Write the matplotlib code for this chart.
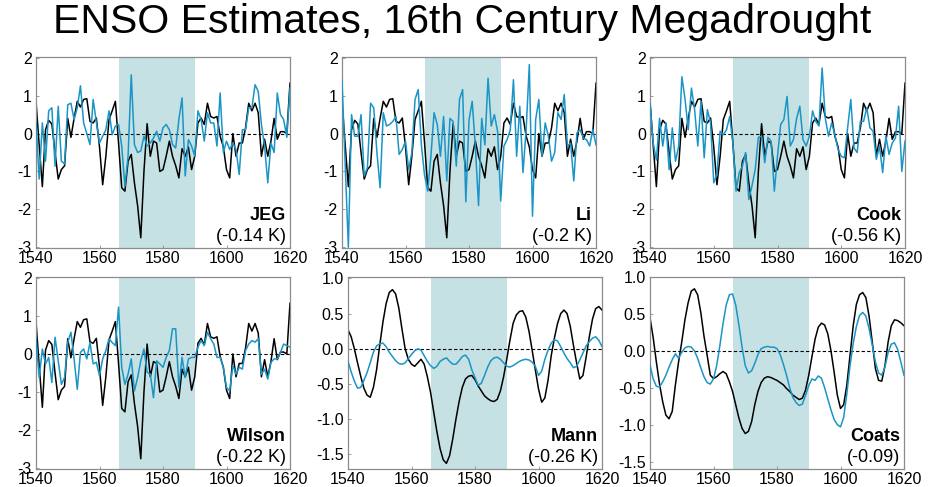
import matplotlib
matplotlib.use('Agg')
import matplotlib.pyplot as plt
from matplotlib import rcParams

rcParams['font.family'] = 'Liberation Sans'
rcParams['axes.unicode_minus'] = False

years = list(range(1540, 1621))

# reconstruction shared by the four annual panels (black)
black_annual = [0.85, -0.3, -1.4, 0.1, 0.35, 0.25, -0.5, -1.2, -0.95, -0.85,
                0.4, -0.1, 0.4, 0.85, 0.7, 0.9, 0.92, 0.32, 0.28, 0.41,
                -0.35, -1.35, -0.6, 0.37, 0.6, 0.85, -0.25, -1.43, -1.52, -0.73,
                -0.55, -1.3, -1.9, -2.75, -1.0, 0.26, -0.6, -0.2, -0.25, -1.0,
                -0.95, -0.6, -0.2, -0.6, -0.85, -1.17, -0.4, -0.6, -0.35, -0.95,
                -0.6, 0.28, 0.41, 0.24, 0.8, 0.45, 0.41, 0.45, -0.07, -0.35,
                -0.95, -1.17, 0.0, -0.6, -0.25, -0.25, 0.15, 0.8, 0.6, 0.8,
                0.55, -0.6, -0.15, -0.6, -0.2, 0.4, -0.15, 0.05, 0.05, 0.0,
                1.33]

jeg = [0.3, -1.2, 0.28, -0.73, 0.6, 0.68, -0.86, 0.72, -0.73, -0.8,
       0.76, 0.8, 0.37, 0.68, 1.26, 0.28, 0.0, -0.29, 0.9, 0.3,
       -0.25, -0.07, 0.1, 0.6, -0.03, 0.2, 0.24, -0.33, -1.39, -0.6,
       1.55, -0.29, -0.5, -0.46, -0.07, -0.33, -0.25, -0.12, 0.06, -0.2,
       0.15, 0.24, 0.1, -0.29, -0.38, 0.37, 0.94, -1.12, -0.16, -0.33,
       -0.6, 0.6, 0.37, -0.2, 0.55, 0.28, 0.28, -0.33, 1.07, -0.5,
       -0.2, -0.42, -0.25, -0.42, -1.08, 0.1, 0.1, 0.68, 0.68, 1.29,
       1.11, 0.24, -0.33, -1.3, -0.25, -0.5, 1.07, 0.5, 0.37, -0.1,
       1.2]

li = [1.42, -0.8, -3.0, 0.5, -0.07, -0.07, 0.5, -1.12, -0.9, 0.8,
      0.68, -0.5, -1.43, 0.55, 0.2, 0.24, 0.32, 0.45, -0.55, -0.42,
      -0.2, -0.95, -0.5, 0.9, 1.16, -0.3, -1.1, -1.52, -0.6, 0.55,
      0.24, -0.6, 0.45, -1.25, 0.4, 0.32, -0.86, 0.9, 1.16, -1.8,
      0.35, 0.85, -0.33, -1.9, 0.4, -0.3, 1.46, 0.2, 0.5, 0.06,
      -1.78, -0.33, -0.16, 0.1, 1.42, -0.6, 0.72, -1.03, 0.1, 1.82,
      -2.18, 0.37, 0.9, -0.6, 0.28, -0.07, -0.73, -0.5, 0.55, 0.37,
      1.03, -0.33, -0.25, -1.25, 0.02, 0.1, -0.12, -0.16, -0.33, 0.1,
      -0.3]

cook = [0.8, -0.25, -0.7, 0.4, -0.33, 0.28, -0.95, 0.15, -0.73, -0.33,
        1.5, 0.9, 0.1, 1.2, 0.63, -0.33, 0.85, -0.64, 0.63, 0.28,
        -1.3, -1.08, 0.06, -0.03, 0.1, 0.45, -0.25, -1.52, -1.03, -0.86,
        -0.5, -1.74, -1.38, -0.95, -0.1, -0.07, -0.77, -0.1, -0.2, -1.52,
        -0.6, 0.24, 0.37, 0.98, -0.33, -0.16, 0.4, 0.72, -0.16, -0.33,
        -0.07, 0.6, 0.32, 0.2, 1.73, 0.4, -0.07, 0.28, -0.03, -0.42,
        -0.6, -0.64, 0.15, 0.9, -0.38, -0.5, 0.32, 0.32, 0.68, 0.15,
        0.06, -0.68, -0.33, -1.03, -0.07, -0.55, -0.25, -0.12, 0.72, -1.0,
        -0.2]

wilson = [0.4, -0.62, 0.13, -0.26, -0.09, -0.75, 0.44, -0.18, -0.8, -0.62,
          0.3, 0.57, -0.13, -0.93, 0.04, 0.13, -0.13, 0.3, -0.26, -0.22,
          -0.57, -0.13, 0.09, 0.4, 0.3, 0.22, 1.23, -0.35, -0.8, -0.53,
          -0.13, -0.97, -0.62, -0.18, 0.13, -0.48, -0.53, -1.15, -0.18, -0.26,
          -0.35, -0.09, 0.09, 0.66, 0.66, -0.88, -0.09, -0.62, -0.13, -0.09,
          -0.09, 0.18, 0.35, 0.22, 0.57, 0.4, 0.26, -0.09, -0.09, -0.35,
          -0.88, -0.97, -0.3, -0.53, -0.35, -0.4, 0.09, 0.26, 0.35, 0.31,
          0.4, -0.53, -0.4, -0.66, -0.22, -0.13, -0.13, 0.04, 0.26, 0.22,
          0.18]

# smoothed (low-pass) versions
mann_black = [0.27, 0.17, 0.0, -0.2, -0.39, -0.56, -0.66, -0.69, -0.55, -0.3,
              0.05, 0.38, 0.64, 0.8, 0.84, 0.78, 0.58, 0.28, 0.0, -0.15,
              -0.22, -0.25, -0.2, -0.15, -0.22, -0.4, -0.62, -0.9, -1.18, -1.42,
              -1.58, -1.63, -1.52, -1.28, -1.0, -0.75, -0.55, -0.43, -0.39, -0.38,
              -0.44, -0.53, -0.6, -0.67, -0.71, -0.74, -0.75, -0.72, -0.6, -0.4,
              -0.15, 0.12, 0.36, 0.48, 0.53, 0.54, 0.45, 0.25, -0.02, -0.3,
              -0.57, -0.76, -0.7, -0.45, -0.1, 0.15, 0.36, 0.5, 0.55, 0.5,
              0.32, 0.05, -0.2, -0.43, -0.38, -0.12, 0.17, 0.42, 0.57, 0.6,
              0.55]

mann_blue = [-0.18, -0.33, -0.46, -0.56, -0.55, -0.45, -0.34, -0.2, -0.05, 0.04,
             0.07, 0.08, 0.03, -0.05, -0.11, -0.17, -0.21, -0.22, -0.2, -0.14,
             -0.08, -0.03, 0.0, -0.02, -0.1, -0.18, -0.24, -0.28, -0.25, -0.18,
             -0.15, -0.13, -0.18, -0.22, -0.22, -0.17, -0.11, -0.09, -0.15, -0.3,
             -0.41, -0.52, -0.49, -0.38, -0.26, -0.17, -0.13, -0.12, -0.15, -0.2,
             -0.25, -0.26, -0.24, -0.21, -0.18, -0.16, -0.15, -0.16, -0.19, -0.25,
             -0.38, -0.32, -0.15, -0.02, 0.08, 0.13, 0.11, 0.03, -0.06, -0.14,
             -0.2, -0.27, -0.25, -0.16, -0.06, 0.04, 0.1, 0.15, 0.17, 0.12,
             0.03]

coats_black = [0.45, 0.18, -0.15, -0.45, -0.69, -0.87, -0.92, -0.82, -0.46, -0.15,
               0.12, 0.42, 0.65, 0.81, 0.84, 0.76, 0.52, 0.2, -0.06, -0.33,
               -0.375, -0.35, -0.31, -0.28, -0.31, -0.42, -0.55, -0.73, -0.91, -1.05,
               -1.12, -1.09, -0.96, -0.73, -0.55, -0.43, -0.37, -0.35, -0.36, -0.38,
               -0.4, -0.43, -0.46, -0.51, -0.55, -0.6, -0.63, -0.66, -0.64, -0.53,
               -0.33, -0.08, 0.16, 0.32, 0.375, 0.35, 0.23, 0.0, -0.29, -0.6,
               -0.78, -0.73, -0.46, -0.06, 0.34, 0.63, 0.76, 0.79, 0.72, 0.47,
               0.12, -0.24, -0.4, -0.41, -0.2, 0.12, 0.34, 0.42, 0.41, 0.38,
               0.34]

coats_blue = [-0.19, -0.38, -0.48, -0.49, -0.42, -0.33, -0.22, -0.12, -0.04, -0.1,
              -0.02, 0.04, 0.06, 0.05, 0.0, -0.1, -0.23, -0.35, -0.43, -0.45,
              -0.38, -0.2, 0.07, 0.37, 0.62, 0.76, 0.77, 0.62, 0.35, 0.05,
              -0.2, -0.3, -0.27, -0.17, -0.05, 0.03, 0.05, 0.06, 0.05, 0.05,
              0.03, -0.05, -0.18, -0.33, -0.5, -0.63, -0.7, -0.74, -0.72, -0.6,
              -0.47, -0.38, -0.4, -0.34, -0.37, -0.5, -0.65, -0.8, -0.93, -1.0,
              -1.03, -0.9, -0.58, -0.2, 0.1, 0.33, 0.48, 0.52, 0.47, 0.3,
              0.08, -0.15, -0.3, -0.33, -0.22, -0.02, 0.09, 0.11, 0.02, -0.15,
              -0.33]

names = ['JEG', 'Li', 'Cook', 'Wilson', 'Mann', 'Coats']
notes = ['(-0.14 K)', '(-0.2 K)', '(-0.56 K)', '(-0.22 K)', '(-0.26 K)', '(-0.09)']
black_series = [black_annual, black_annual, black_annual, black_annual, mann_black, coats_black]
blue_series = [jeg, li, cook, wilson, mann_blue, coats_blue]

annual_ticks = [-3, -2, -1, 0, 1, 2]
mann_ticks = [-1.5, -1.0, -0.5, 0.0, 0.5, 1.0]
x_ticks = [1540, 1560, 1580, 1600, 1620]
drought = (1566, 1590)

blue_col = '#1b95c6'
shade_col = '#c6e1e3'
spine_col = '#8c8c8c'
tick_size = 11.5
label_size = 13

W, H = 929, 487
rects_px = [(36, 57, 254, 191), (342, 57, 254, 191), (650, 57, 255, 191),
            (36, 277, 254, 192), (348, 277, 254, 192), (650, 277, 254, 192)]
ylims = [(-3.02, 2.02)] * 4 + [(-1.71, 1.02), (-1.6, 1.0)]

fig = plt.figure(figsize=(W / 100, H / 100), dpi=100)
fig.text(0.497, 1 - 22 / H, 'ENSO Estimates, 16th Century Megadrought',
         fontsize=29.5, ha='center', va='center')

for i in range(6):
    x0, y0, w, h = rects_px[i]
    ax = fig.add_axes([x0 / W, 1 - (y0 + h) / H, w / W, h / H])
    ax.axvspan(drought[0], drought[1], color=shade_col, lw=0, zorder=0)
    ax.axhline(0, color='k', lw=0.8, ls=(0, (3, 2)), zorder=1)
    ax.plot(years, black_series[i], color='k', lw=1.1, zorder=2)
    ax.plot(years, blue_series[i], color=blue_col, lw=1.1, zorder=3)
    ax.set_xlim(1540, 1620)
    ax.set_ylim(*ylims[i])
    ax.set_xticks(x_ticks)
    if i < 4:
        ax.set_yticks(annual_ticks)
    else:
        ax.set_yticks(mann_ticks)
        ax.set_yticklabels(['%.1f' % t for t in mann_ticks])
    ax.tick_params(labelsize=tick_size, direction='in', length=2, width=0.6,
                   color=spine_col, pad=3)
    ax.tick_params(axis='x', pad=2)
    for s in ax.spines.values():
        s.set_color(spine_col)
        s.set_linewidth(0.9)
    ax.text(0.985, 0.17, names[i], transform=ax.transAxes, ha='right', va='center',
            fontsize=label_size, fontweight='bold')
    ax.text(0.985, 0.06, notes[i], transform=ax.transAxes, ha='right', va='center',
            fontsize=label_size)

fig.savefig('out.png', dpi=100)
